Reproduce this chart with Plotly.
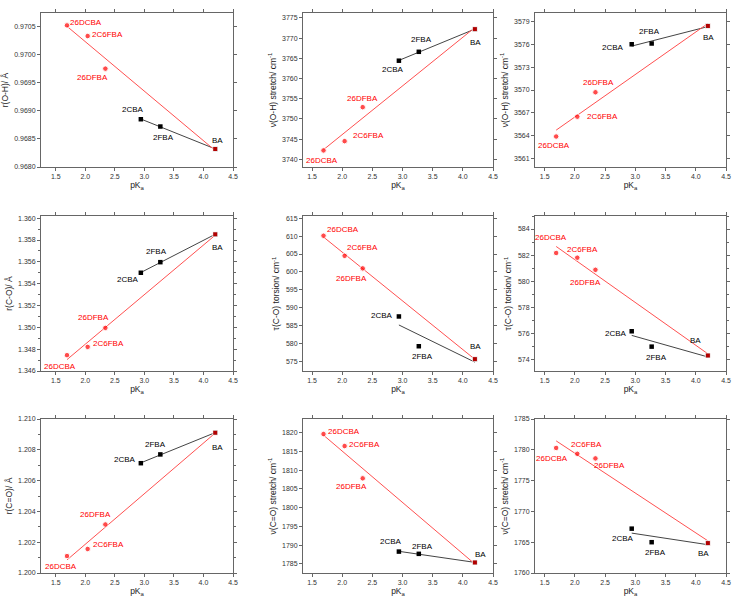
import numpy as np
import plotly.graph_objects as go

# ---------------- data ----------------
compounds_red = ["26DCBA", "2C6FBA", "26DFBA", "BA"]
pka_red = [1.69, 2.04, 2.34, 4.20]
compounds_black = ["2CBA", "2FBA", "BA"]
pka_black = [2.94, 3.27, 4.20]

# panel values (red series: 26DCBA, 2C6FBA, 26DFBA, BA ; black: 2CBA, 2FBA, BA)
r_OH_red = [0.97052, 0.97033, 0.96975, 0.96832]
r_OH_black = [0.96885, 0.96872, 0.96832]
nu_OH_a_red = [3742.2, 3744.5, 3752.9, 3772.2]
nu_OH_a_black = [3764.4, 3766.6, 3772.2]
nu_OH_b_red = [3563.9, 3566.5, 3569.7, 3578.4]
nu_OH_b_black = [3576.0, 3576.1, 3578.4]
r_CO_red = [1.34745, 1.34821, 1.34995, 1.35852]
r_CO_black = [1.35500, 1.35597, 1.35852]
tau_CO_a_red = [610.1, 604.5, 601.0, 575.7]
tau_CO_a_black = [587.6, 579.3, 575.7]
tau_CO_b_red = [582.16, 581.8, 580.87, 574.29]
tau_CO_b_black = [576.15, 574.97, 574.29]
r_C_O_red = [1.2011, 1.20156, 1.20315, 1.20911]
r_C_O_black = [1.20713, 1.2077, 1.20911]
nu_CO_a_red = [1819.6, 1816.4, 1807.8, 1785.4]
nu_CO_a_black = [1788.3, 1787.7, 1785.4]
nu_CO_b_red = [1780.3, 1779.35, 1778.6, 1764.85]
nu_CO_b_black = [1767.2, 1765.0, 1764.85]

y_titles = [
    "r(O-H)/ Å", "ν(O-H) stretch/ cm<sup>-1</sup>", "ν(O-H) stretch/ cm<sup>-1</sup>",
    "r(C-O)/ Å", "τ(C-O) torsion/ cm<sup>-1</sup>", "τ(C-O) torsion/ cm<sup>-1</sup>",
    "r(C=O)/ Å", "ν(C=O) stretch/ cm<sup>-1</sup>", "ν(C=O) stretch/ cm<sup>-1</sup>",
]
x_title = "pK<sub>a</sub>"

panels_red = [r_OH_red, nu_OH_a_red, nu_OH_b_red, r_CO_red, tau_CO_a_red,
              tau_CO_b_red, r_C_O_red, nu_CO_a_red, nu_CO_b_red]
panels_black = [r_OH_black, nu_OH_a_black, nu_OH_b_black, r_CO_black, tau_CO_a_black,
                tau_CO_b_black, r_C_O_black, nu_CO_a_black, nu_CO_b_black]

# ---------------- styling / layout ----------------
W, H = 740, 608
col_px = [(41, 233), (303, 493), (535, 726)]
row_px = [(13, 167), (216, 371), (419, 573)]
x_ranges = [[1.25, 4.5], [1.35, 4.5], [1.34, 4.5]]
y_axes = [
    dict(range=[0.9680, 0.97074], tick0=0.9680, dtick=0.0005, tickformat=".4f"),
    dict(range=[3738.1, 3776.2], tick0=3740, dtick=5, tickformat="d"),
    dict(range=[3559.9, 3580.1], tick0=3561, dtick=3, tickformat="d"),
    dict(range=[1.3460, 1.3602], tick0=1.346, dtick=0.002, tickformat=".3f"),
    dict(range=[572.4, 615.6], tick0=575, dtick=5, tickformat="d"),
    dict(range=[573.1, 585.0], tick0=574, dtick=2, tickformat="d"),
    dict(range=[1.2000, 1.2100], tick0=1.200, dtick=0.002, tickformat=".3f"),
    dict(range=[1782.6, 1823.6], tick0=1785, dtick=5, tickformat="d"),
    dict(range=[1760, 1785], tick0=1760, dtick=5, tickformat="d"),
]
# label offsets (px): name -> (dx, dy) with dy positive downward
label_offsets = [
    {"26DCBA": (19, -3), "2C6FBA": (20, -2), "26DFBA": (-13, 9), "2CBA": (-8, -10), "2FBA": (3, 11), "BA": (2, -9)},
    {"26DCBA": (-2, 10), "2C6FBA": (24, -6), "26DFBA": (0, -9), "2CBA": (-6, 9), "2FBA": (3, -12), "BA": (1, 13)},
    {"26DCBA": (-2, 9), "2C6FBA": (25, 0), "26DFBA": (3, -10), "2CBA": (-19, 3), "2FBA": (-2, -12), "BA": (1, 12)},
    {"26DCBA": (-7, 11), "2C6FBA": (21, -3), "26DFBA": (-12, -10), "2CBA": (-13, 7), "2FBA": (-4, -11), "BA": (2, 13)},
    {"26DCBA": (19, -6), "2C6FBA": (18, -8), "26DFBA": (-11, 10), "2CBA": (-17, -1), "2FBA": (4, 10), "BA": (1, -13)},
    {"26DCBA": (-5, -15), "2C6FBA": (5, -8), "26DFBA": (-10, 13), "2CBA": (-16, 2), "2FBA": (5, 11), "BA": (-12, -15)},
    {"26DCBA": (-6, 10), "2C6FBA": (21, -4), "26DFBA": (-10, -10), "2CBA": (-16, -4), "2FBA": (-5, -10), "BA": (2, 15)},
    {"26DCBA": (20, -3), "2C6FBA": (20, -2), "26DFBA": (-11, 8), "2CBA": (-8, -10), "2FBA": (4, -7), "BA": (6, -8)},
    {"26DCBA": (-4, 11), "2C6FBA": (9, -9), "26DFBA": (14, 7), "2CBA": (-9, 10), "2FBA": (4, 10), "BA": (-4, 10)},
]

RED = "#ff0000"
RED_LINE = "#ff5050"
BLACK = "#000000"
GREY_LINE = "#444444"
FRAME = "#666666"
TICKFONT = dict(family="Arial, Liberation Sans, sans-serif", size=7, color="#333333")
TITLEFONT = dict(family="Arial, Liberation Sans, sans-serif", size=8.5, color="#222222")
LABELFONT = "Arial, Liberation Sans, sans-serif"

fig = go.Figure()
annotations = []
layout = dict(width=W, height=H, margin=dict(l=0, r=0, t=0, b=0),
              paper_bgcolor="white", plot_bgcolor="white", showlegend=False)

for i in range(9):
    r, c = divmod(i, 3)
    n = "" if i == 0 else str(i + 1)
    xa, ya = "x" + n, "y" + n
    yr = panels_red[i]
    yb = panels_black[i]

    # linear fits
    pb = np.polyfit(pka_black, yb, 1)
    xb_fit = [min(pka_black), max(pka_black)]
    fig.add_trace(go.Scatter(x=xb_fit, y=list(np.polyval(pb, xb_fit)), mode="lines",
                             line=dict(color=GREY_LINE, width=1), xaxis=xa, yaxis=ya,
                             hoverinfo="skip"))
    pr = np.polyfit(pka_red, yr, 1)
    xr_fit = [min(pka_red), max(pka_red)]
    fig.add_trace(go.Scatter(x=xr_fit, y=list(np.polyval(pr, xr_fit)), mode="lines",
                             line=dict(color=RED_LINE, width=1), xaxis=xa, yaxis=ya,
                             hoverinfo="skip"))
    # markers
    fig.add_trace(go.Scatter(x=pka_black, y=yb, mode="markers", xaxis=xa, yaxis=ya,
                             marker=dict(symbol="square", size=4.5, color=BLACK)))
    fig.add_trace(go.Scatter(x=pka_red, y=yr, mode="markers", xaxis=xa, yaxis=ya,
                             marker=dict(symbol=["circle", "circle", "circle", "square"],
                                         size=[5.5, 5.5, 5.5, 5], color=RED)))

    # labels
    offs = label_offsets[i]
    for name, xv, yv in zip(compounds_red[:-1], pka_red[:-1], yr[:-1]):
        dx, dy = offs[name]
        annotations.append(dict(x=xv, y=yv, xref=xa, yref=ya, text=name, showarrow=False,
                                xshift=dx, yshift=-dy, xanchor="center", yanchor="middle",
                                font=dict(family=LABELFONT, size=8, color=RED)))
    for name, xv, yv in zip(compounds_black, pka_black, yb):
        dx, dy = offs[name]
        annotations.append(dict(x=xv, y=yv, xref=xa, yref=ya, text=name, showarrow=False,
                                xshift=dx, yshift=-dy, xanchor="center", yanchor="middle",
                                font=dict(family=LABELFONT, size=8, color=BLACK)))

    x0, x1 = col_px[c]
    t0, t1 = row_px[r]
    common = dict(showline=True, linecolor=FRAME, linewidth=1, mirror="allticks",
                  ticks="outside", ticklen=3, tickwidth=1, tickcolor=FRAME,
                  showgrid=False, zeroline=False, tickfont=TICKFONT, automargin=False,
                  minor=dict(ticks="outside", ticklen=2, tickcolor=FRAME, nticks=2))
    layout["xaxis" + n] = dict(common, domain=[x0 / W, x1 / W], anchor=ya,
                               range=x_ranges[c], tick0=1.5, dtick=0.5, tickformat=".1f",
                               title=dict(text=x_title, font=TITLEFONT, standoff=2))
    layout["yaxis" + n] = dict(common, domain=[1 - t1 / H, 1 - t0 / H], anchor=xa,
                               title=dict(text=y_titles[i], font=TITLEFONT, standoff=4),
                               **y_axes[i])

layout["annotations"] = annotations
fig.update_layout(**layout)
fig.write_html("out.html", config={"displayModeBar": False},
               post_script="document.body.style.margin='0px';document.body.style.overflow='hidden';")
